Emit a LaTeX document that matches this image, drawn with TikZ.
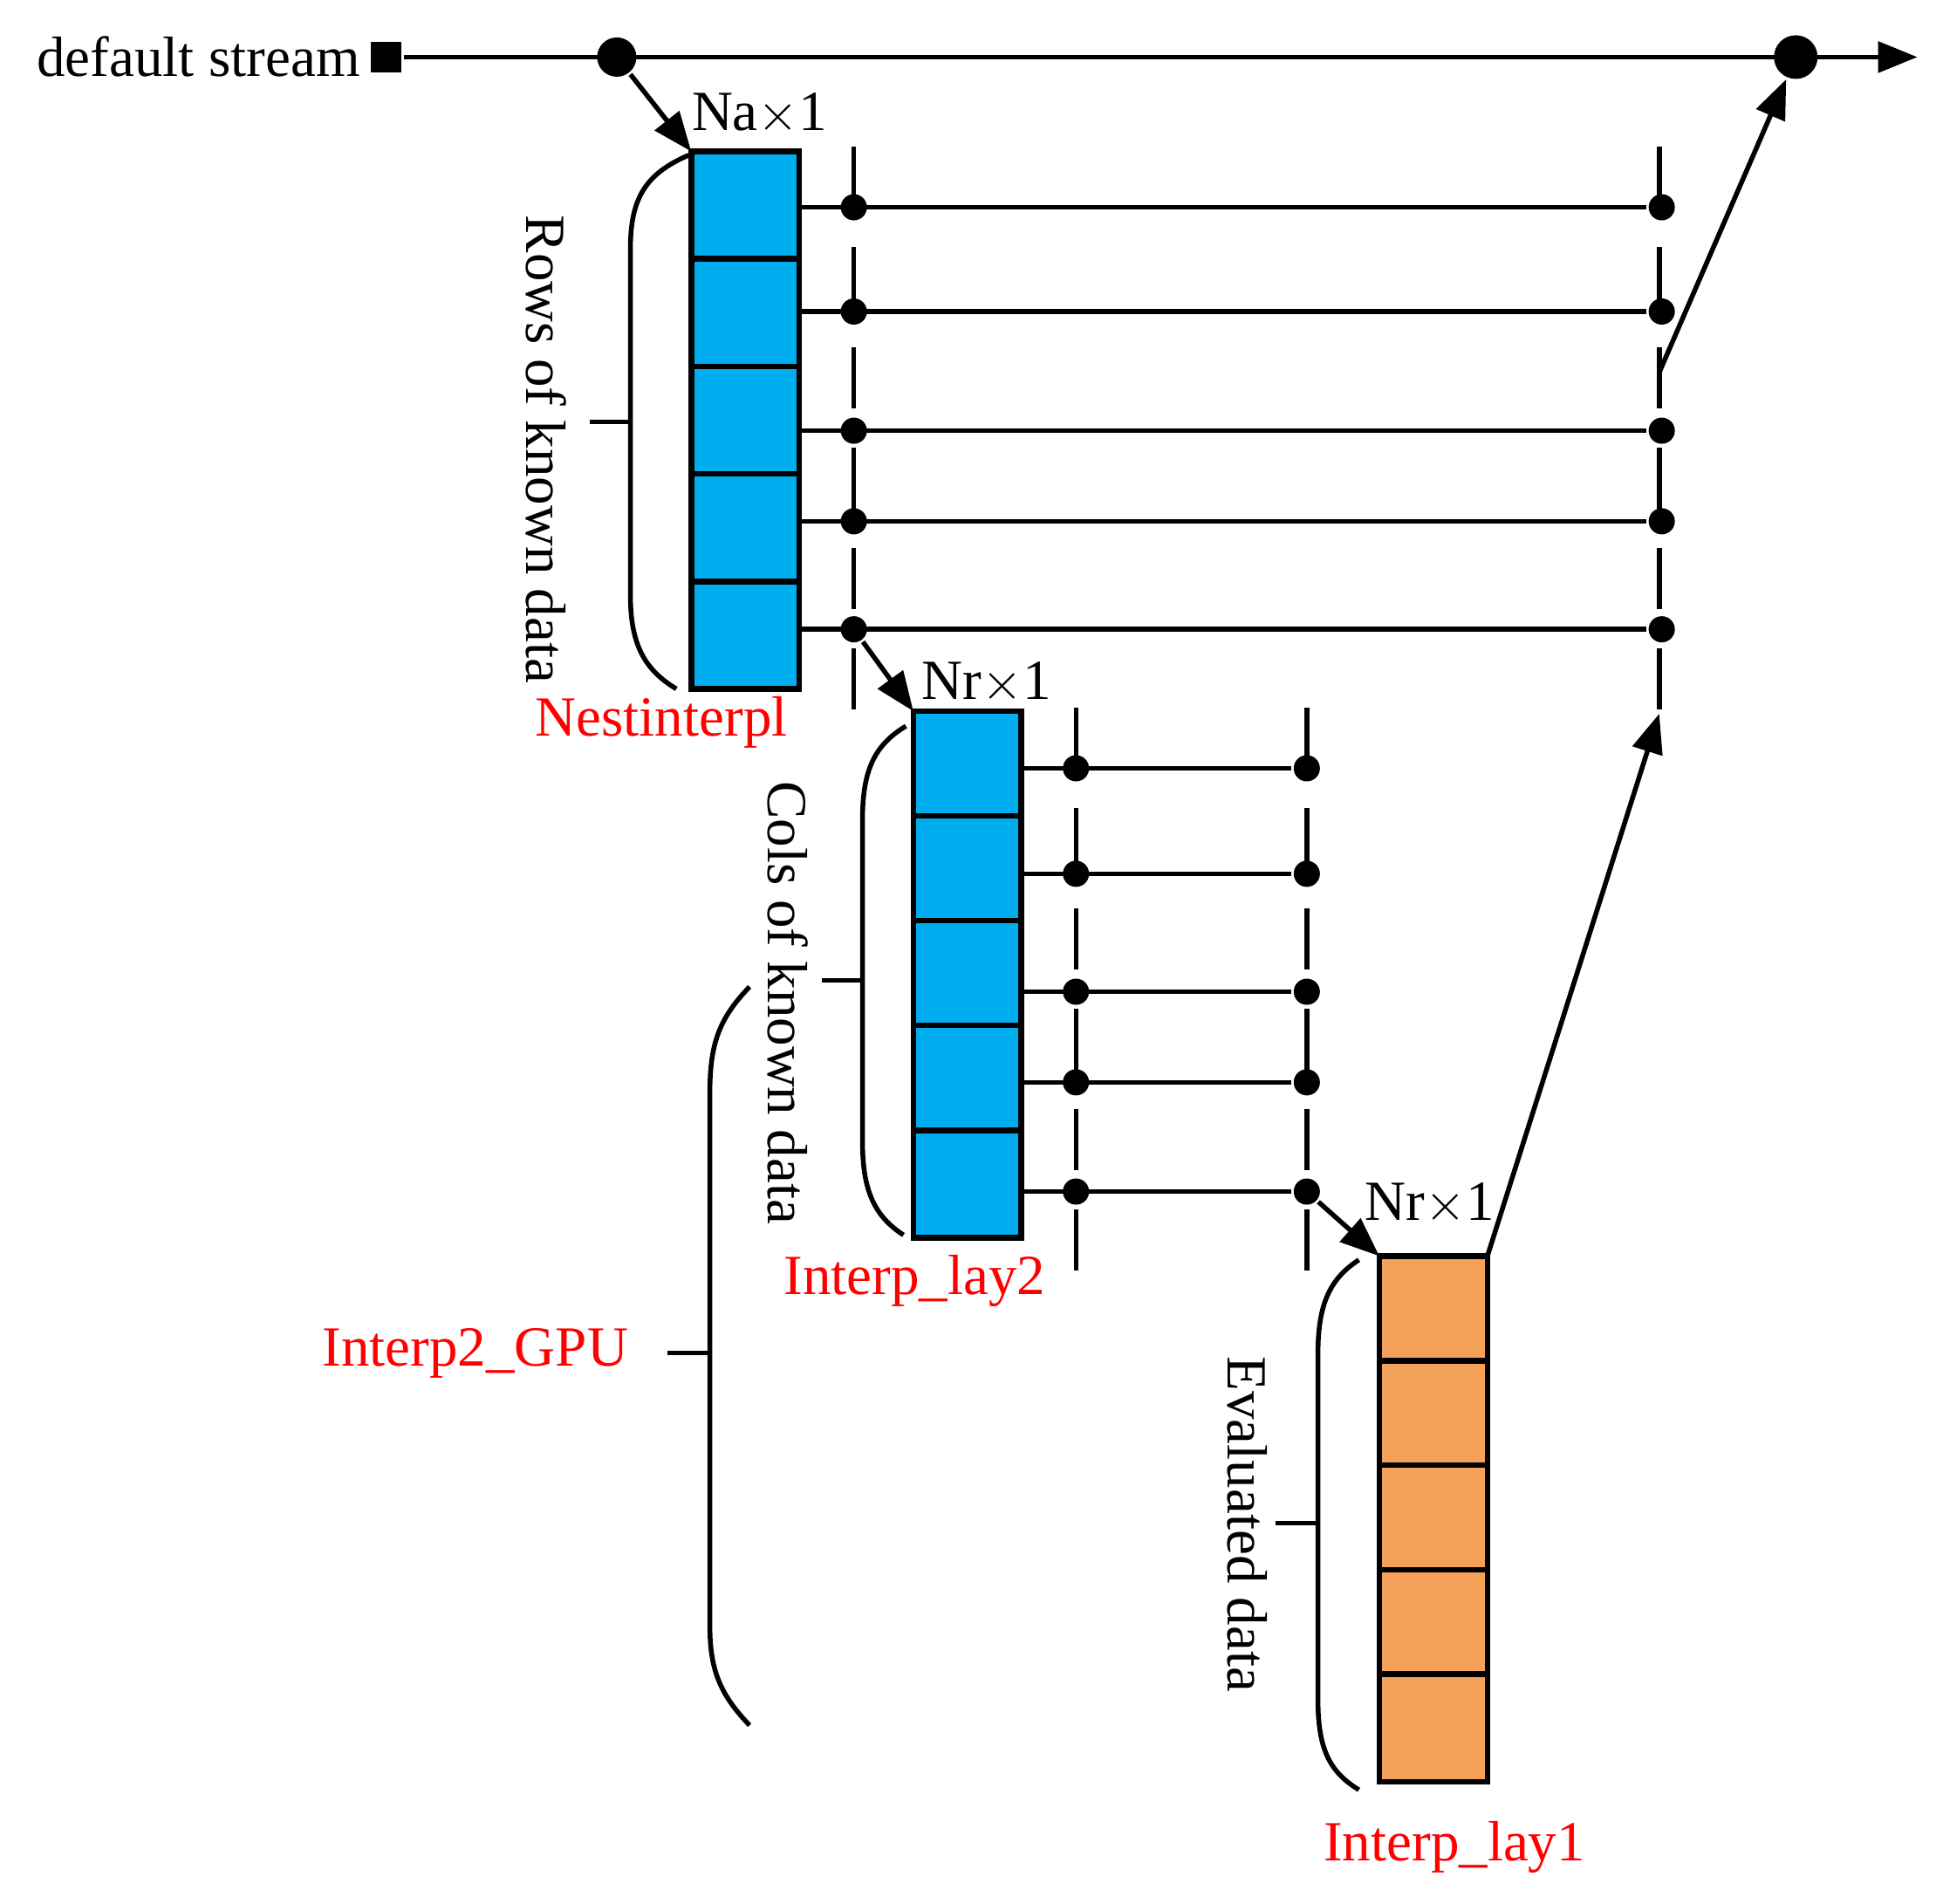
\documentclass[tikz,border=0pt]{standalone}
\usepackage{fontspec}
\setmainfont{Liberation Serif}
\usetikzlibrary{arrows.meta}
\definecolor{cblue}{HTML}{00AEEF}
\definecolor{corange}{HTML}{F4A15A}
\begin{document}
\begin{tikzpicture}[x=0.01cm,y=-0.01cm,line width=1.1pt,
  txt/.style={font=\fontsize{13}{15}\selectfont,inner sep=0pt},
  red/.style={txt,text=red},
  arr/.style={-{Triangle[length=9pt,width=7pt]}},
  dot/.style={circle,fill,inner sep=0pt,minimum size=6pt},
  bdot/.style={circle,fill,inner sep=0pt,minimum size=10pt},
  dsh/.style={dash pattern=on 14pt off 9pt},
  cell/.style={draw,line width=1.3pt,minimum width=0.87cm,minimum height=0.866cm,inner sep=0pt,outer sep=0pt}]
\useasboundingbox (0,0) rectangle (1560,1534);
% default stream
\node[txt,anchor=east] (ds) at (292,46) {default stream};
\node[fill,minimum size=7pt,inner sep=0pt] (sq) at (311,46) {};
\coordinate (e) at (1545,46);
\node[dot,minimum size=9pt] (d1) at (497,46) {};
\node[bdot] (d2) at (1447,46) {};
\draw[arr] (sq) -- (e);
% column 1
\foreach \i in {0,...,4}{\node[cell,fill=cblue,anchor=north] (a\i) at (600.5,{122+86.6*\i}) {};}
\node[txt] (na) at (612,92) {Na$\times$1};
\draw[arr] (d1) -- (a0.north west);
\draw[dsh] (688,118) -- (688,578);
\draw[dsh] (1337,118) -- (1337,578);
\foreach \y/\n in {167/1,251/2,347/3,420/4,507/5}{
  \node[dot] (p\n) at (688,\y) {};
  \node[dot] (q\n) at (1339,\y) {};
  \draw (646,\y) -- (q\n);
}
\draw (555,125) .. controls (520,140) and (508,160) .. (508,200) -- (508,480) .. controls (508,520) and (520,540) .. (545,555);
\draw (475,340) -- (508,340);
\node[txt,rotate=-90] (rk) at (440,362) {Rows of known data};
\node[red] (ni) at (533,582) {Nestinterpl};
\coordinate (s1) at (1337,300);
\draw[arr] (s1) -- (d2);
% column 2
\foreach \i in {0,...,4}{\node[cell,fill=cblue,anchor=north] (b\i) at (779.5,{573+84.4*\i}) {};}
\node[txt] (nr) at (795,550) {Nr$\times$1};
\draw[arr] (p5) -- (b0.north west);
\draw[dsh] (867,570) -- (867,1030);
\draw[dsh] (1053,570) -- (1053,1030);
\foreach \y/\n in {619/1,704/2,799/3,872/4,960/5}{
  \node[dot] (r\n) at (867,\y) {};
  \node[dot] (t\n) at (1053,\y) {};
  \draw (823,\y) -- (t\n);
}
\draw (730,585) .. controls (705,600) and (695,620) .. (695,660) -- (695,920) .. controls (695,960) and (705,980) .. (728,995);
\draw (662,790) -- (695,790);
\node[txt,rotate=-90] (ck) at (635,808) {Cols of known data};
\node[red] (il2) at (737,1032) {Interp\_lay2};
% big brace
\draw (604,795) .. controls (580,820) and (572,840) .. (572,880) -- (572,1310) .. controls (572,1345) and (580,1365) .. (604,1390);
\draw (538,1090) -- (572,1090);
\node[red] (gpu) at (383,1090) {Interp2\_GPU};
% column 3
\foreach \i in {0,...,4}{\node[cell,fill=corange,anchor=north] (c\i) at (1155,{1012+84.2*\i}) {};}
\node[txt] (nr2) at (1152,970) {Nr$\times$1};
\draw[arr] (t5) -- (c0.north west);
\coordinate (s2) at (1337,575);
\draw[arr] (c0.north east) -- (s2);
\draw (1095,1015) .. controls (1072,1030) and (1062,1050) .. (1062,1090) -- (1062,1370) .. controls (1062,1410) and (1072,1428) .. (1095,1442);
\draw (1028,1227) -- (1062,1227);
\node[txt,rotate=-90] (ev) at (1005,1228) {Evaluated data};
\node[red] (il1) at (1172,1488) {Interp\_lay1};
\end{tikzpicture}
\end{document}
